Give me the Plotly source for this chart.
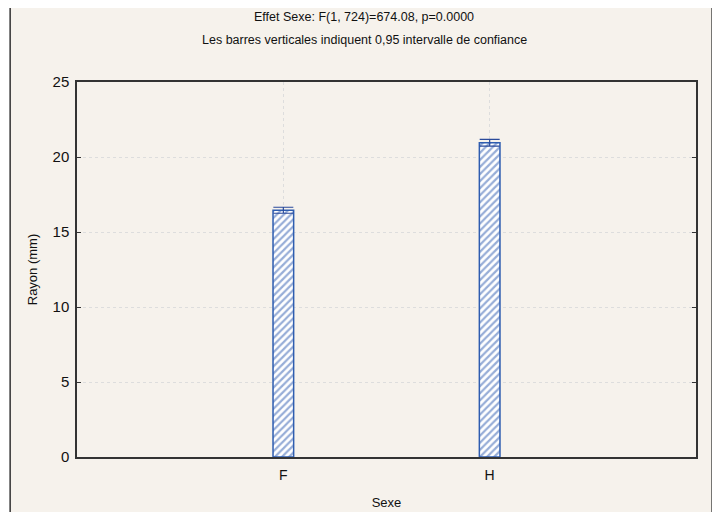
import plotly.graph_objects as go

categories = ["F", "H"]
means = [16.45, 20.95]
ci_half = [0.2, 0.22]
y_ticks = [0, 5, 10, 15, 20, 25]

blue_line = "#2E5DB0"
err_color = "#2A4A9A"
FONT = "Liberation Sans, Arial"

# page is offset by 8px body margin; plot area target: x 77-696, y 82-457 (page coords)
fig = go.Figure()
fig.add_trace(go.Bar(
    x=categories, y=means, width=0.1,
    marker=dict(color="white", line=dict(color=blue_line, width=1.5),
                pattern=dict(shape="/", fgcolor="#2F5CB0", bgcolor="white", size=5, solidity=0.45)),
    error_y=dict(type="data", array=ci_half, visible=True, color=err_color, thickness=1.2, width=10),
    showlegend=False,
))

fig.update_layout(
    width=720, height=512,
    margin=dict(l=69, r=32, t=74, b=63, autoexpand=False),
    paper_bgcolor="white",
    plot_bgcolor="white",
    font=dict(family=FONT, size=13, color="#111111"),
    shapes=[dict(type="rect", xref="paper", yref="paper", x0=-0.108, x1=1.026, y0=-0.17, y1=1.208,
                 fillcolor="#F6F2EC", line=dict(color="#333333", width=1.5), layer="below")],
    annotations=[
        dict(text="Effet Sexe: F(1, 724)=674.08, p=0.0000", xref="paper", yref="paper",
             x=(364 - 77) / 619, y=(457 - 17) / 375, yanchor="middle", showarrow=False,
             font=dict(size=12.5)),
        dict(text="Les barres verticales indiquent 0,95 intervalle de confiance", xref="paper", yref="paper",
             x=(364 - 77) / 619, y=(457 - 40) / 375, yanchor="middle", showarrow=False,
             font=dict(size=12.5)),
    ],
)
fig.update_xaxes(
    type="category", range=[-1, 2],
    showline=True, linecolor="#333333", linewidth=1.5, mirror=True,
    showgrid=True, gridcolor="#DDDDDD", griddash="dot", gridwidth=1,
    ticks="", tickfont=dict(size=14), ticklabelstandoff=4,
    title=dict(text="Sexe", font=dict(size=13), standoff=16),
    automargin=False,
)
fig.update_yaxes(
    range=[0, 25], tickvals=y_ticks,
    showline=True, linecolor="#333333", linewidth=1.5, mirror="ticks",
    showgrid=True, gridcolor="#DDDDDD", griddash="dot", gridwidth=1,
    ticks="inside", ticklen=4, tickcolor="#333333",
    tickfont=dict(size=15), ticklabelstandoff=3,
    title=dict(text="Rayon (mm)", font=dict(size=13), standoff=12),
    zeroline=False, automargin=False,
)

fig.write_html("out.html")
